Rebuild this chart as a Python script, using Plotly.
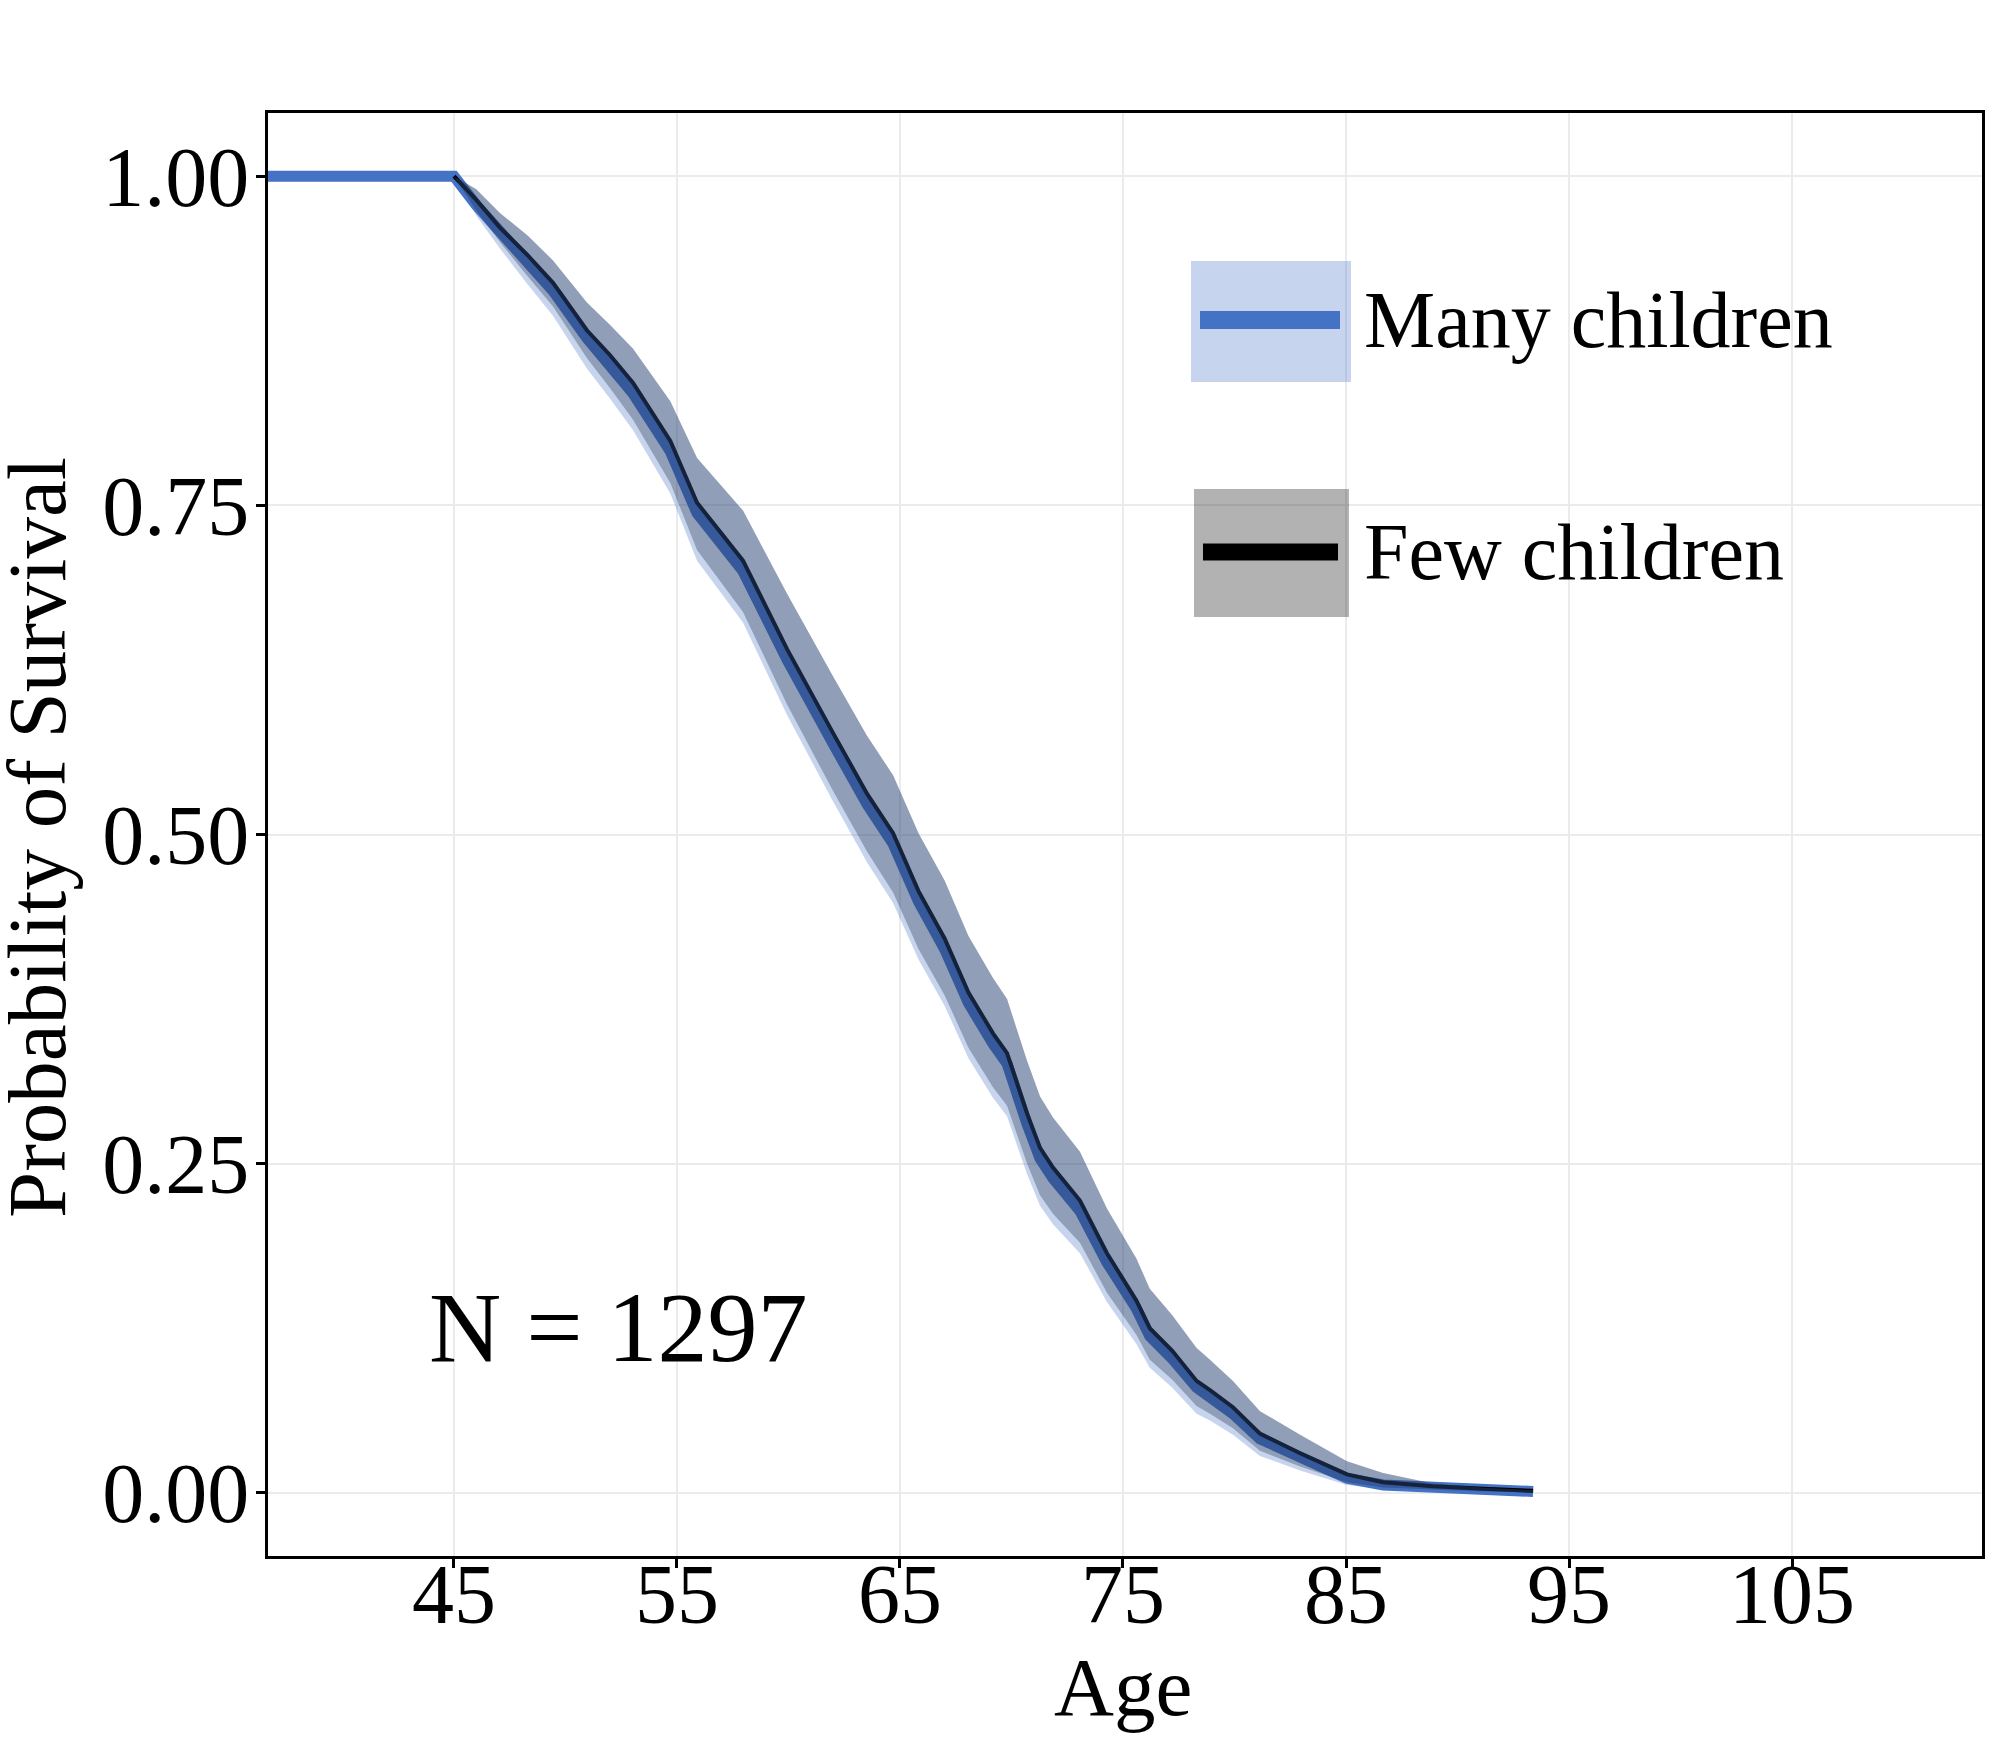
import plotly.graph_objects as go

# ---------------- data ----------------
ages_many = [36.0, 45.0, 46.0, 47.06, 48.3, 49.44, 50.96, 52.0, 53.03, 54.7, 55.9, 57.96, 59.93,
             62.0, 63.52, 64.69, 65.83, 67.0, 68.07, 69.17, 69.8, 70.7, 71.28, 71.86, 73.07,
             74.28, 75.6, 76.2, 77.2, 78.3, 78.9, 79.93, 81.14, 82.94, 85.04, 86.66, 88.9,
             91.14, 93.39]
surv_many = [1.0, 1.000, 0.978, 0.957, 0.935, 0.913, 0.877, 0.856, 0.835, 0.791, 0.744, 0.700, 0.633,
             0.569, 0.523, 0.493, 0.449, 0.413, 0.372, 0.341, 0.326, 0.280, 0.254, 0.239, 0.214,
             0.175, 0.140, 0.119, 0.102, 0.080, 0.073, 0.060, 0.041, 0.027, 0.011, 0.006, 0.004,
             0.002, 0.001]
lower_many = [1.0, 1.000, 0.970, 0.945, 0.918, 0.894, 0.854, 0.831, 0.807, 0.759, 0.708, 0.661, 0.591,
              0.525, 0.479, 0.448, 0.405, 0.370, 0.330, 0.300, 0.286, 0.242, 0.218, 0.204, 0.182,
              0.145, 0.113, 0.095, 0.080, 0.060, 0.055, 0.044, 0.028, 0.017, 0.006, 0.003, 0.002,
              0.001, 0.0003]
upper_many = [1.0, 1.000, 0.990, 0.972, 0.955, 0.936, 0.904, 0.887, 0.869, 0.829, 0.786, 0.746, 0.683,
              0.620, 0.575, 0.545, 0.501, 0.465, 0.423, 0.391, 0.375, 0.328, 0.301, 0.285, 0.259,
              0.216, 0.178, 0.155, 0.135, 0.110, 0.101, 0.085, 0.062, 0.044, 0.024, 0.015, 0.007,
              0.004, 0.002]

ages_few = [45.0, 46.0, 47.06, 48.3, 49.44, 50.96, 52.0, 53.03, 54.7, 55.9, 57.96, 59.93,
            62.0, 63.52, 64.69, 65.83, 67.0, 68.07, 69.17, 69.8, 70.7, 71.28, 71.86, 73.07,
            74.28, 75.6, 76.2, 77.2, 78.3, 78.9, 79.93, 81.14, 82.94, 85.04, 86.66, 88.9,
            91.14, 93.39]
surv_few = [1.000, 0.982, 0.961, 0.940, 0.919, 0.883, 0.864, 0.843, 0.799, 0.752, 0.708, 0.641,
            0.577, 0.531, 0.501, 0.457, 0.421, 0.380, 0.349, 0.334, 0.288, 0.262, 0.247, 0.222,
            0.182, 0.146, 0.125, 0.108, 0.085, 0.078, 0.065, 0.045, 0.030, 0.014, 0.008, 0.005,
            0.003, 0.0015]
lower_few = [1.000, 0.974, 0.950, 0.924, 0.901, 0.862, 0.839, 0.815, 0.767, 0.716, 0.669, 0.599,
             0.533, 0.487, 0.456, 0.413, 0.378, 0.338, 0.308, 0.294, 0.250, 0.226, 0.212, 0.190,
             0.152, 0.120, 0.101, 0.086, 0.066, 0.060, 0.049, 0.032, 0.020, 0.008, 0.004, 0.0025,
             0.0012, 0.0005]
upper_few = [1.000, 0.990, 0.972, 0.955, 0.936, 0.904, 0.887, 0.869, 0.829, 0.786, 0.746, 0.683,
             0.620, 0.575, 0.545, 0.501, 0.465, 0.423, 0.391, 0.375, 0.328, 0.301, 0.285, 0.259,
             0.216, 0.178, 0.155, 0.135, 0.110, 0.101, 0.085, 0.062, 0.044, 0.024, 0.015, 0.007,
             0.004, 0.002]

x_ticks = [45, 55, 65, 75, 85, 95, 105]
y_ticks = [0.0, 0.25, 0.5, 0.75, 1.0]
y_tick_labels = ["0.00", "0.25", "0.50", "0.75", "1.00"]
group_labels = ["Many children", "Few children"]
n_label = "N = 1297"
x_title = "Age"
y_title = "Probability of Survival"

# ---------------- styling ----------------
W, H = 2000, 1749
ML, MR, MT, MB = 268, 18, 113, 193
PW, PH = W - ML - MR, H - MT - MB
FONT = "Liberation Serif, Times New Roman, serif"
BLUE = "#4472C4"
BLUE_FILL = "rgba(68,114,196,0.3)"
GREY_FILL = "rgba(0,0,0,0.3)"


def px(x):
    return (x - ML) / PW


def py(y):
    return (H - MB - y) / PH


fig = go.Figure()

# survival lines (drawn first; ribbons are laid over them)
fig.add_trace(go.Scatter(x=ages_many, y=surv_many, mode="lines",
                         line=dict(color=BLUE, width=11), hoverinfo="skip"))
fig.add_trace(go.Scatter(x=ages_few, y=surv_few, mode="lines",
                         line=dict(color="black", width=4), hoverinfo="skip"))

# confidence ribbons
fig.add_trace(go.Scatter(x=ages_few + ages_few[::-1], y=upper_few + lower_few[::-1],
                         mode="none", fill="toself", fillcolor=GREY_FILL, hoverinfo="skip"))
fig.add_trace(go.Scatter(x=ages_many + ages_many[::-1], y=upper_many + lower_many[::-1],
                         mode="none", fill="toself", fillcolor=BLUE_FILL, hoverinfo="skip"))

axis_common = dict(
    showline=True, linecolor="black", linewidth=3, mirror=True,
    ticks="outside", ticklen=9, tickwidth=3, tickcolor="black",
    showgrid=True, gridcolor="#EBEBEB", gridwidth=2, zeroline=False,
    tickfont=dict(family=FONT, size=84, color="black"),
)

fig.update_xaxes(range=[36.66, 113.52], tickvals=x_ticks, ticklabelstandoff=-46, **axis_common)
fig.update_yaxes(range=[-0.048, 1.048], tickvals=y_ticks, ticktext=y_tick_labels,
                 ticklabelstandoff=-10, **axis_common)

shapes = [
    dict(type="rect", xref="paper", yref="paper", x0=px(1191), x1=px(1351), y0=py(382), y1=py(261),
         fillcolor=BLUE_FILL, line=dict(width=0), layer="above"),
    dict(type="rect", xref="paper", yref="paper", x0=px(1194), x1=px(1349), y0=py(617), y1=py(489),
         fillcolor=GREY_FILL, line=dict(width=0), layer="above"),
    dict(type="line", xref="paper", yref="paper", x0=px(1200), x1=px(1340), y0=py(320), y1=py(320),
         line=dict(color=BLUE, width=18), layer="above"),
    dict(type="line", xref="paper", yref="paper", x0=px(1203), x1=px(1338), y0=py(552), y1=py(552),
         line=dict(color="black", width=17), layer="above"),
]

annotations = [
    dict(text=group_labels[0], xref="paper", yref="paper", x=px(1362), y=py(320),
         xanchor="left", yanchor="middle", showarrow=False,
         font=dict(family=FONT, size=80, color="black")),
    dict(text=group_labels[1], xref="paper", yref="paper", x=px(1362), y=py(552),
         xanchor="left", yanchor="middle", showarrow=False,
         font=dict(family=FONT, size=80, color="black")),
    dict(text=n_label, xref="paper", yref="paper", x=px(618), y=py(1327),
         xanchor="center", yanchor="middle", showarrow=False,
         font=dict(family=FONT, size=100, color="black")),
    dict(text=x_title, xref="paper", yref="paper", x=px(1123), y=py(1687),
         xanchor="center", yanchor="middle", showarrow=False,
         font=dict(family=FONT, size=83, color="black")),
    dict(text=y_title, xref="paper", yref="paper", x=px(37), y=py(838), textangle=-90,
         xanchor="center", yanchor="middle", showarrow=False,
         font=dict(family=FONT, size=83, color="black")),
]

fig.update_layout(
    width=W, height=H,
    margin=dict(l=ML, r=MR, t=MT, b=MB, autoexpand=False),
    paper_bgcolor="white", plot_bgcolor="white",
    showlegend=False,
    font=dict(family=FONT, color="black"),
    shapes=shapes, annotations=annotations,
)

fig.write_html("out.html", config={"displayModeBar": False},
               post_script="document.body.style.margin='0';document.body.style.padding='0';")
